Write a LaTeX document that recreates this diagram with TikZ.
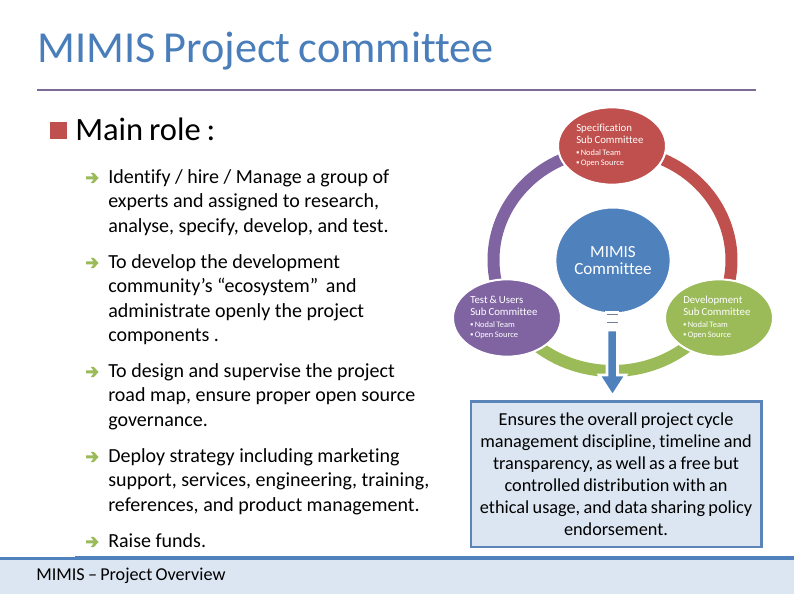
\documentclass[tikz,border=0pt]{standalone}
\usepackage{fontspec}
\setmainfont[Ligatures=NoCommon,WordSpace=0.8]{Carlito}
\newfontfamily\bodyfam[Ligatures=NoCommon,WordSpace=1.0]{Carlito}
\usetikzlibrary{shapes.geometric,calc}
\definecolor{titleblue}{HTML}{4A7EBB}
\definecolor{rulepurple}{HTML}{7A6A94}
\definecolor{cred}{HTML}{C0504D}
\definecolor{cblue}{HTML}{4F81BD}
\definecolor{cgreen}{HTML}{9BBB59}
\definecolor{cpurple}{HTML}{8064A2}
\definecolor{pale}{HTML}{DCE6F2}
\definecolor{boxline}{HTML}{5B85B8}
\tikzset{
  x=0.75pt,y=-0.75pt,
  bodytext/.style={anchor=north west,align=left,font=\bodyfam\fontsize{15}{18.4}\selectfont,text=black,inner sep=0pt},
  tick/.style={fill=cgreen,draw=none},
  sub/.style={ellipse,draw=white,line width=1.5pt,minimum width=81pt,minimum height=58pt,inner sep=0pt},
  subt/.style={font=\fontsize{8.1}{8.8}\selectfont,text=white,align=left,inner sep=0pt,anchor=north west},
  subl/.style={font=\fontsize{6.3}{7.8}\selectfont,text=white,align=left,inner sep=0pt,anchor=north west},
  band/.style={line width=9pt},
}
\newcommand{\arrowmark}[1]{\fill[tick] ($(#1)+(-4,-1.5)$) -- ++(7.5,0) -- ++(-2.8,-3.6) -- ++(3,0) -- ++(5,5.1) -- ++(-5,5.1) -- ++(-3,0) -- ++(2.8,-3.6) -- ++(-7.5,0) -- cycle;}
\begin{document}
\begin{tikzpicture}
\useasboundingbox (0,0) rectangle (794,595);
\fill[white] (0,0) rectangle (794,595);
\node[anchor=base west,inner sep=0pt,font=\fontsize{33.2}{36}\selectfont,text=titleblue] (title) at (37,63) {MIMIS Project committee};
\draw[rulepurple,line width=1pt] (37,90) -- (756,90);
\fill[cred] (50,122) rectangle (67,139);
\node[anchor=base west,inner sep=0pt,font=\fontsize{24.4}{28}\selectfont] (role) at (75,141) {Main role :};
\coordinate (m1) at (90,178);\coordinate (m2) at (90,263);\coordinate (m3) at (90,372);\coordinate (m4) at (90,457);\coordinate (m5) at (90,542);
\foreach \m in {m1,m2,m3,m4,m5}{\arrowmark{\m}}
\node[bodytext] (t1) at (108,169) {Identify / hire / Manage a group of\\experts and assigned to research,\\analyse, specify, develop, and test.};
\node[bodytext] (t2) at (108,254) {To develop the development\\community’s “ecosystem”\, and\\administrate openly the project\\components .};
\node[bodytext] (t3) at (108,363) {To design and supervise the project\\road map, ensure proper open source\\governance.};
\node[bodytext] (t4) at (108,448) {Deploy strategy including marketing\\support, services, engineering, training,\\references, and product management.};
\node[bodytext] (t5) at (108,533) {Raise funds.};
% footer
\fill[pale] (0,559) rectangle (794,594);
\fill[cblue] (75,556.5) rectangle (794,560);
\fill[cblue] (0,557.5) rectangle (75,560);
\node[anchor=base west,inner sep=0pt,font=\fontsize{13.6}{15}\selectfont,text=black] (foot) at (36,581) {MIMIS – Project Overview};
% ring
\coordinate (c) at (612.5,260);
\draw[cred,band] ($(c)+(64.7:119 and -111)$) arc[start angle=64.7,end angle=-11,x radius=119,y radius=-111];
\draw[cpurple,band] ($(c)+(115.3:119 and -111)$) arc[start angle=115.3,end angle=191,x radius=119,y radius=-111];
\draw[cgreen,band] ($(c)+(230:119 and -111)$) arc[start angle=230,end angle=310,x radius=119,y radius=-111];
\node[sub,fill=cred] (spec) at (612,146) {};
\node[sub,fill=cpurple] (test) at (507,318) {};
\node[sub,fill=cgreen] (dev) at (719,318) {};
\node[ellipse,fill=cblue,draw=white,line width=1pt,minimum width=86pt,minimum height=79pt,inner sep=0pt,font=\fontsize{12.8}{13.2}\selectfont,text=white,align=center] (core) at (613,260.5) {MIMIS\\Committee};
\node[subt] (st) at (576,124) {Specification\\Sub Committee};
\node[subl] (sl) at (576,149) {▪ Nodal Team\\▪ Open Source};
\node[subt] (tt) at (470,296) {Test \& Users\\Sub Committee};
\node[subl] (tl) at (470,321) {▪ Nodal Team\\▪ Open Source};
\node[subt] (dt) at (683,296) {Development\\Sub Committee};
\node[subl] (dl) at (683,321) {▪ Nodal Team\\▪ Open Source};
% box
\node[rectangle,draw=boxline,line width=1.8pt,fill=pale,minimum width=218pt,minimum height=109pt,inner sep=0pt,anchor=north west,align=center,font=\fontsize{13.7}{16.5}\selectfont] (box) at (469.5,400.5) {Ensures the overall project cycle\\management discipline, timeline and\\transparency, as well as a free but\\controlled distribution with an\\ethical usage, and data sharing policy\\endorsement.};
% arrow
\draw[white,line width=2pt,fill=cblue] (607,330) -- (617.5,330) -- (617.5,375) -- (626,375) -- (612.5,396) -- (599,375) -- (607,375) -- cycle;
\fill[white] (605,311) rectangle (619,330);
\draw[gray!70!cblue,line width=.7pt] (607,314.5) -- (618,314.5) (607,322) -- (618,322);
\end{tikzpicture}
\end{document}
